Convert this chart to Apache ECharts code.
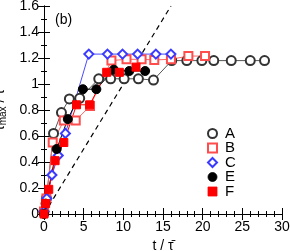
<!DOCTYPE html>
<html><head><meta charset="utf-8">
<script src="https://cdn.jsdelivr.net/npm/echarts@6/dist/echarts.min.js"></script>
<style>html,body{margin:0;padding:0;background:#fff}#c{width:290px;height:251px}</style>
</head><body><div id="c"></div>
<script>
const xTicks = [0, 5, 10, 15, 20, 25, 30];
const yTicks = [0, 0.2, 0.4, 0.6, 0.8, 1, 1.2, 1.4, 1.6];
const seriesNames = ['A', 'B', 'C', 'E', 'F'];
const aT = [0, 0.3, 1.2, 2.2, 3.2, 4.5, 6.9, 8.4, 10.1, 11.9, 13.8, 16.1, 18.0, 19.9, 21.4, 23.6, 26.0, 27.8];
const aV = [0.02, 0.12, 0.62, 0.78, 0.885, 0.89, 1.04, 1.04, 1.04, 1.04, 1.03, 1.18, 1.18, 1.18, 1.18, 1.18, 1.18, 1.18];
const bT = [0, 0.3, 1.1, 2.5, 4.0, 5.8, 8.5, 10.4, 12.3, 13.9, 16.0, 18.2, 20.3];
const bV = [0.02, 0.12, 0.55, 0.72, 0.72, 0.83, 1.18, 1.19, 1.19, 1.185, 1.19, 1.215, 1.215];
const cT = [0, 0.35, 1.0, 1.8, 2.7, 5.65, 8.0, 9.9, 11.8, 14.1, 16.0];
const cV = [0.02, 0.12, 0.3, 0.45, 0.62, 1.23, 1.23, 1.23, 1.23, 1.23, 1.23];
const eT = [0, 0.2, 1.6, 3.0, 4.9, 6.6, 8.8, 10.75, 12.75];
const eV = [0, 0.08, 0.5, 0.73, 0.96, 0.96, 1.11, 1.10, 1.10];
const fT = [0, 0.2, 0.6, 1.4, 2.5, 4.1, 5.75, 7.9, 9.5, 11.6];
const fV = [0, 0.08, 0.19, 0.41, 0.55, 0.84, 0.84, 1.09, 1.09, 1.13];
const refT = [0, 16];
const refV = [0, 1.6];

const zip = (t, v) => t.map((x, i) => [x, v[i]]);
const FONT = 'Liberation Sans';
const chart = echarts.init(document.getElementById('c'));

function axisCommon(extra) {
  return Object.assign({
    type: 'value',
    axisLine: { show: true, lineStyle: { color: '#000', width: 1 } },
    axisTick: { show: true, inside: true, length: 6, lineStyle: { color: '#000' } },
    splitLine: { show: false },
    minorSplitLine: { show: false }
  }, extra);
}
const xInt = xTicks[1] - xTicks[0];
const yInt = yTicks[1] - yTicks[0];
const labelStyle = { color: '#000', fontSize: 14, fontFamily: FONT };
const minorX = { show: true, splitNumber: 5, length: 3, lineStyle: { color: '#000' } };
const minorY = { show: true, splitNumber: 2, length: 3, lineStyle: { color: '#000' } };

const mk = (name, t, v, symbol, color, lineColor, size) => ({
  name, type: 'line', data: zip(t, v), symbol, symbolSize: size,
  itemStyle: { color: color, borderColor: color, borderWidth: 1 },
  lineStyle: { color: lineColor, width: 1 },
  emphasis: { disabled: true }, animation: false, z: 3
});

chart.setOption({
  animation: false,
  grid: { left: 44, right: 8, top: 6, bottom: 37, outerBoundsMode: 'none', containLabel: false },
  title: { text: '(b)', left: 55, top: 13, padding: 0, textStyle: { fontSize: 14, fontWeight: 'normal', fontFamily: FONT, color: '#000' } },
  legend: {
    orient: 'vertical', left: 207, top: 126, padding: 0, itemWidth: 9, itemHeight: 9, itemGap: -0.5,
    itemStyle: { borderWidth: 0.8 },
    textStyle: { fontSize: 15, lineHeight: 13, height: 13, fontFamily: FONT, color: '#000', padding: [0, 0, 0, 3] },
    data: [
      { name: 'A', icon: 'emptyCircle' }, { name: 'B', icon: 'emptyRect' },
      { name: 'C', icon: 'emptyDiamond' }, { name: 'E', icon: 'circle' }, { name: 'F', icon: 'rect' }
    ]
  },
  xAxis: [
    axisCommon({ min: xTicks[0], max: xTicks[xTicks.length - 1], interval: xInt, minorTick: minorX,
      axisLabel: Object.assign({ margin: 6 }, labelStyle),
      name: 't / τ\u0304', nameLocation: 'middle', nameGap: 25, nameTextStyle: { fontSize: 14, fontFamily: FONT, color: '#000' } }),
    axisCommon({ position: 'top', min: xTicks[0], max: xTicks[xTicks.length - 1], interval: xInt, minorTick: minorX, axisLabel: { show: false } })
  ],
  yAxis: [
    axisCommon({ min: yTicks[0], max: yTicks[yTicks.length - 1], interval: yInt, minorTick: minorY,
      axisLabel: Object.assign({ margin: 5, formatter: v => String(+v.toFixed(1)) }, labelStyle),
      name: '{a|τ}{s|max}{a| / τ\u0304}', nameLocation: 'middle', nameGap: 26,
      nameTextStyle: { rich: { a: { fontSize: 14, fontFamily: FONT, color: '#000' }, s: { fontSize: 10, fontFamily: FONT, color: '#000', verticalAlign: 'bottom', padding: [6, 0, 0, 0] } } } }),
    axisCommon({ position: 'right', min: yTicks[0], max: yTicks[yTicks.length - 1], interval: yInt, minorTick: minorY, axisLabel: { show: false } })
  ],
  series: [
    { name: 'ref', type: 'line', data: zip(refT, refV), symbol: 'none', lineStyle: { color: '#000', width: 1.2, type: [5, 4] }, z: 2, animation: false, emphasis: { disabled: true } },
    mk('A', aT, aV, 'emptyCircle', '#333', '#555', 9),
    mk('B', bT, bV, 'emptyRect', '#ff4d4d', '#ff6666', 8),
    mk('C', cT, cV, 'emptyDiamond', '#3b3bff', '#4a4aff', 9),
    mk('E', eT, eV, 'circle', '#000', '#000', 9),
    mk('F', fT, fV, 'rect', '#ff0000', '#ff0000', 8)
  ]
});
</script></body></html>
